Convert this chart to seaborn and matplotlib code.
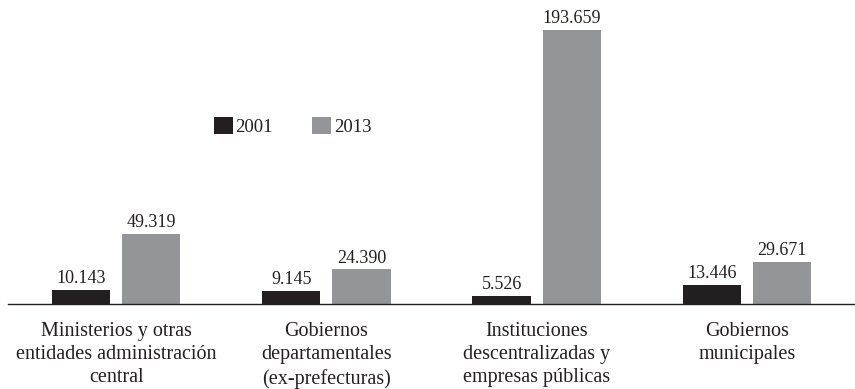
import matplotlib
matplotlib.use("Agg")
import matplotlib.pyplot as plt
import seaborn as sns
import pandas as pd

categories = [
    "Ministerios y otras\nentidades administración\ncentral",
    "Gobiernos\ndepartamentales\n(ex-prefecturas)",
    "Instituciones\ndescentralizadas y\nempresas públicas",
    "Gobiernos\nmunicipales",
]
years = ["2001", "2013"]
values_2001 = [10143, 9145, 5526, 13446]
values_2013 = [49319, 24390, 193659, 29671]
colors = ["#231f20", "#939598"]

df = pd.DataFrame({
    "cat": categories * 2,
    "year": [years[0]] * 4 + [years[1]] * 4,
    "value": values_2001 + values_2013,
})

sns.set_theme(style="white")
plt.rcParams["font.family"] = ["Liberation Serif", "DejaVu Serif"]

fig = plt.figure(figsize=(8.55, 3.89), dpi=100)
ax = fig.add_axes([8 / 855, 1 - 304 / 389, 847 / 855, 304 / 389])

sns.barplot(data=df, x="cat", y="value", hue="year", palette=colors,
            width=0.667, gap=0.17, ax=ax, saturation=1, edgecolor="none")

for container in ax.containers:
    labels = [f"{int(v):,}".replace(",", ".") for v in container.datavalues]
    ax.bar_label(container, labels=labels, padding=2, fontsize=13, color="#231f20")

ax.set_ylim(0, 214860)
ax.set_xlim(-0.514, 3.514)
ax.set_xlabel("")
ax.set_ylabel("")
ax.set_yticks([])
ax.tick_params(axis="x", length=0, pad=13, labelsize=14.5, colors="#231f20")
for lbl in ax.get_xticklabels():
    lbl.set_linespacing(1.3)
for s in ["top", "left", "right"]:
    ax.spines[s].set_visible(False)
ax.spines["bottom"].set_color("#231f20")
ax.spines["bottom"].set_linewidth(1.0)

leg = ax.legend(loc="center left", bbox_to_anchor=(206 / 847, 0.585), ncol=2,
                frameon=False, fontsize=13.5, handlelength=1.0, handleheight=1.0,
                handletextpad=0.15, columnspacing=2.1, borderpad=0, borderaxespad=0)
for t in leg.get_texts():
    t.set_color("#231f20")

fig.savefig("out.png", dpi=100)
